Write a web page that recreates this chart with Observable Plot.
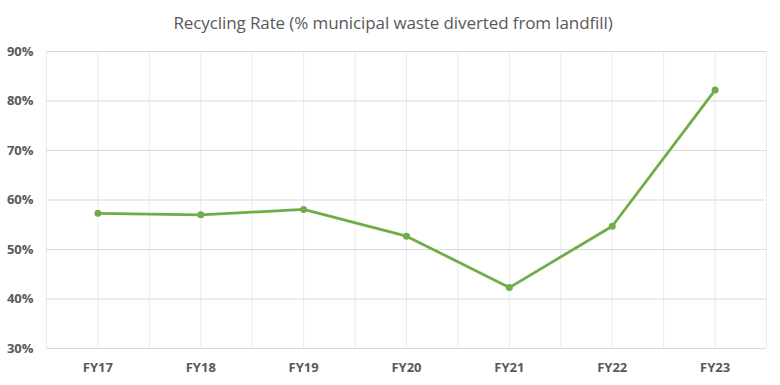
<!DOCTYPE html>
<html><head><meta charset="utf-8">
<script src="https://cdn.jsdelivr.net/npm/d3@7"></script>
<script src="https://cdn.jsdelivr.net/npm/@observablehq/plot@0.6"></script>
<style>
body{margin:0;background:#fff;width:780px;height:385px;overflow:hidden;font-family:"Open Sans",sans-serif;}
#title{height:40px;line-height:45px;text-align:center;font-size:17px;color:#595959;padding-left:6px;font-family:"Open Sans",sans-serif;letter-spacing:-0.1px}
</style></head><body>
<div id="title">Recycling Rate (% municipal waste diverted from landfill)</div>
<div id="chart"></div>
<script>
const years = ["FY17","FY18","FY19","FY20","FY21","FY22","FY23"];
const rates = [57.3, 57.0, 58.1, 52.7, 42.3, 54.7, 82.2];
const yTicks = [30,40,50,60,70,80,90];

const data = years.map((y,i)=>({i, year:y, rate:rates[i]}));
const xGrid = d3.range(-0.5, years.length, 0.5);

const chart = Plot.plot({
  width: 780, height: 345,
  marginLeft: 46, marginRight: 14, marginTop: 11, marginBottom: 37,
  style: {fontFamily: '"Open Sans", sans-serif', fontSize: "13px", color: "#595959", background: "#fff"},
  x: {type: "linear", domain: [-0.5, years.length - 0.5], axis: null},
  y: {domain: [30, 90], axis: null},
  marks: [
    Plot.ruleX(xGrid, {stroke: "#ebebeb", strokeWidth: 1}),
    Plot.ruleY(yTicks, {stroke: "#d9d9d9", strokeWidth: 1}),
    Plot.axisY(yTicks, {tickSize: 0, tickPadding: 13, tickFormat: d => d + "%", fontWeight: "bold", fill: "#595959", label: null}),
    Plot.axisX(d3.range(years.length), {tickSize: 0, tickPadding: 14, tickFormat: i => years[i], fontWeight: "bold", fill: "#595959", label: null}),
    Plot.line(data, {x: "i", y: "rate", stroke: "#70ad47", strokeWidth: 2.8}),
    Plot.dot(data, {x: "i", y: "rate", fill: "#70ad47", r: 3.5})
  ]
});
document.getElementById("chart").appendChild(chart);
</script>
</body></html>
